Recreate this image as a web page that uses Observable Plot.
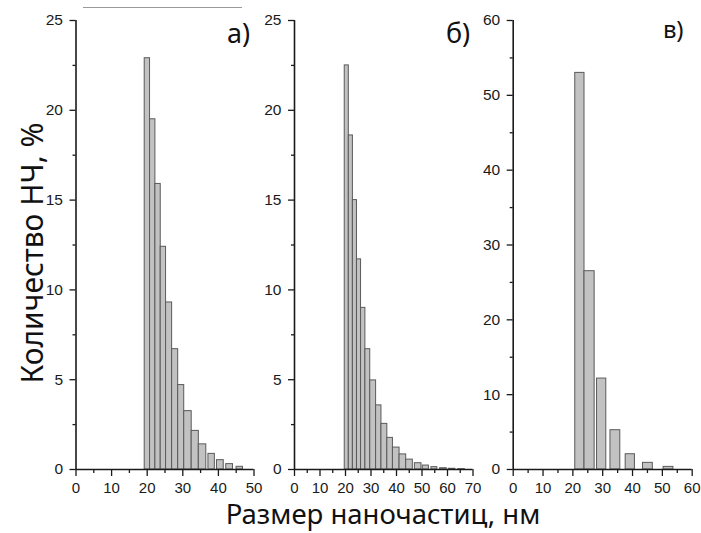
<!DOCTYPE html>
<html>
<head>
<meta charset="utf-8">
<script src="https://cdn.jsdelivr.net/npm/d3@7"></script>
<script src="https://cdn.jsdelivr.net/npm/@observablehq/plot@0.6"></script>
<style>
  html, body { margin: 0; padding: 0; background: #fff; }
  #wrap { position: relative; width: 701px; height: 533px; overflow: hidden; }
  #wrap svg { position: absolute; left: 0; top: 0; background: transparent; }
  .lbl { position: absolute; font-family: "Noto Sans", "DejaVu Sans", sans-serif; color: #111; white-space: nowrap; line-height: 1; }
</style>
</head>
<body>
<div id="wrap"></div>
<script>
// ---- data (size bins in nm, share in %) ----
const binStartA = [19.3, 20.8, 22.3, 23.8, 25.3, 27.0, 28.7, 30.4, 32.5, 34.5, 37.2, 39.6, 42.2, 45.1];
const binEndA   = [20.8, 22.3, 23.8, 25.3, 27.0, 28.7, 30.4, 32.5, 34.5, 36.6, 39.0, 41.5, 44.1, 46.9];
const pctA      = [22.9, 19.5, 15.9, 12.4, 9.3, 6.7, 4.7, 3.25, 2.15, 1.4, 0.87, 0.52, 0.3, 0.15];

const binStartB = [19.7, 21.3, 22.9, 24.5, 26.1, 27.8, 29.7, 32.0, 34.1, 36.4, 38.6, 41.2, 43.8, 47.2, 50.3, 53.7, 57.1, 60.5, 64.2];
const binEndB   = [21.3, 22.9, 24.5, 26.1, 27.8, 29.7, 32.0, 34.1, 36.4, 38.6, 41.2, 43.8, 46.4, 49.8, 52.7, 56.0, 59.7, 63.1, 66.8];
const pctB      = [22.5, 18.6, 15.0, 11.7, 9.0, 6.7, 4.96, 3.57, 2.54, 1.76, 1.22, 0.84, 0.55, 0.35, 0.22, 0.13, 0.07, 0.04, 0.02];

const binStartC = [20.8, 23.9, 28.1, 32.6, 37.7, 43.5, 50.4];
const binEndC   = [23.9, 27.3, 31.2, 35.9, 40.8, 46.8, 53.7];
const pctC      = [53.0, 26.5, 12.15, 5.25, 2.04, 0.89, 0.35];

// ---- tick labels ----
const yTicksAB = [0, 5, 10, 15, 20, 25];
const yTicksC  = [0, 10, 20, 30, 40, 50, 60];
const xTicksA  = [0, 10, 20, 30, 40, 50];
const xTicksB  = [0, 10, 20, 30, 40, 50, 60, 70];
const xTicksC  = [0, 10, 20, 30, 40, 50, 60];

const panelLabels = ["а)", "б)", "в)"];
const yTitle = "Количество НЧ, %";
const xTitle = "Размер наночастиц, нм";

const W = 701, H = 533;
const wrap = document.getElementById("wrap");

function rows(s, e, v) { return s.map((d, i) => ({x1: d, x2: e[i], y: v[i]})); }
function mids(t) { const m = []; for (let i = 0; i < t.length - 1; i++) m.push((t[i] + t[i + 1]) / 2); return m; }

function panel(data, xTicks, yTicks, left, right) {
  const xmax = xTicks[xTicks.length - 1], ymax = yTicks[yTicks.length - 1];
  return Plot.plot({
    width: W, height: H,
    marginLeft: left, marginRight: W - right, marginTop: 20, marginBottom: 64,
    style: {background: "transparent", fontFamily: "'Liberation Sans', Arial, sans-serif", fontSize: "15px", color: "#1a1a1a"},
    x: {domain: [0, xmax]},
    y: {domain: [0, ymax]},
    marks: [
      Plot.rectY(data, {x1: "x1", x2: "x2", y: "y", fill: "#c2c2c2", stroke: "#5a5a5a", strokeWidth: 1}),
      Plot.axisY({ticks: yTicks, tickSize: 6, tickPadding: 7, fontSize: 15.5, label: null, strokeWidth: 1.3}),
      Plot.axisY({ticks: mids(yTicks), tickSize: 3, tickFormat: () => "", label: null, strokeWidth: 1.3}),
      Plot.axisX({ticks: xTicks, tickSize: 7, tickPadding: 6, fontSize: 15, label: null, strokeWidth: 1.3}),
      Plot.axisX({ticks: mids(xTicks), tickSize: 4, tickFormat: () => "", label: null, strokeWidth: 1.3}),
      Plot.ruleX([0], {stroke: "#1a1a1a", strokeWidth: 1.6}),
      Plot.ruleY([0], {stroke: "#1a1a1a", strokeWidth: 1.6})
    ]
  });
}

wrap.appendChild(panel(rows(binStartA, binEndA, pctA), xTicksA, yTicksAB, 75.5, 253.5));
wrap.appendChild(panel(rows(binStartB, binEndB, pctB), xTicksB, yTicksAB, 294, 472.5));
wrap.appendChild(panel(rows(binStartC, binEndC, pctC), xTicksC, yTicksC, 512.7, 691.7));

// thin grey line at the top of the scan
const topLine = document.createElement("div");
topLine.style.cssText = "position:absolute;left:83px;top:7px;width:159px;height:1px;background:#9a9a9a;";
wrap.appendChild(topLine);

function addLabel(text, css) {
  const d = document.createElement("div");
  d.className = "lbl";
  d.textContent = text;
  d.style.cssText += css;
  wrap.appendChild(d);
  return d;
}
addLabel(panelLabels[0], "left:227px;top:19px;font-size:27px;");
addLabel(panelLabels[1], "left:446px;top:19px;font-size:27px;");
addLabel(panelLabels[2], "left:663px;top:17px;font-size:24px;");

addLabel(yTitle, "font-size:30px;left:32px;top:253px;transform:translate(-50%,-50%) rotate(-90deg);");
addLabel(xTitle, "font-size:27.5px;left:383px;top:514px;transform:translate(-50%,-50%);");
</script>
</body>
</html>
